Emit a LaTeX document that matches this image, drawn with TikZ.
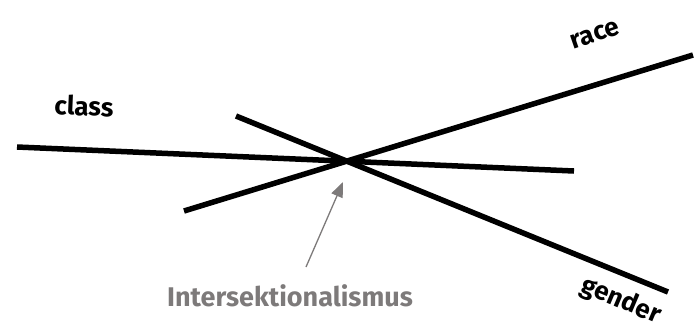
\documentclass[tikz,border=0pt]{standalone}
\usepackage{fontspec}
\setmainfont{Fira Sans}
\usetikzlibrary{arrows.meta}
\definecolor{labelgray}{RGB}{125,122,122}
\tikzset{
	axis/.style={line width=5.5pt,black},
	lbl/.style={font=\bfseries\fontsize{26}{30}\selectfont,inner sep=0pt},
	ptr/.style={draw=labelgray,line width=1.3pt,-{Triangle[length=15pt,width=12pt,fill=labelgray]}}
}
\begin{document}
\begin{tikzpicture}[x=1pt,y=-1pt]
\useasboundingbox (0,0) rectangle (700,325);
\coordinate (c1) at (17,147);
\coordinate (c2) at (574,171);
\coordinate (r1) at (184,211);
\coordinate (r2) at (693,55);
\coordinate (g1) at (236,116);
\coordinate (g2) at (668,292);
\coordinate (tail) at (306,267);
\coordinate (tip) at (343,182);
\draw[axis] (c1)--(c2);
\draw[axis] (r1)--(r2);
\draw[axis] (g1)--(g2);
\draw[ptr] (tail)--(tip);
\node[lbl,rotate=-2.5] (class) at (84,106) {class};
\node[lbl,rotate=19] (race) at (595,35) {race};
\node[lbl,rotate=-23] (gender) at (621,301) {gender};
\node[lbl,text=labelgray,font=\bfseries\fontsize{27}{31}\selectfont] (inter) at (290,296) {Intersektionalismus};
\end{tikzpicture}
\end{document}
